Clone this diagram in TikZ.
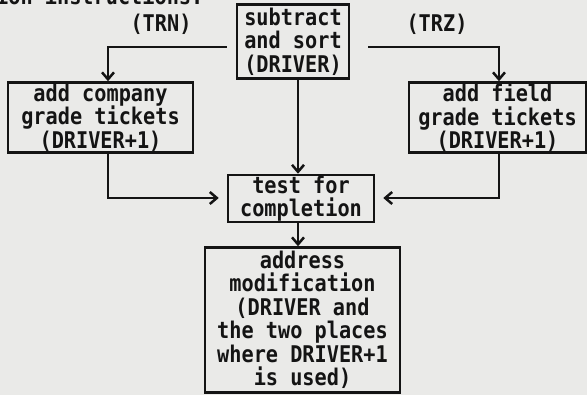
\documentclass[tikz,border=0pt]{standalone}
\usepackage{fontspec}
\newfontfamily\lp[FakeStretch=0.88]{DejaVu Sans Mono}
\usetikzlibrary{arrows.meta}
\definecolor{paper}{RGB}{234,234,232}
\definecolor{ink}{RGB}{20,20,20}
\tikzset{
  box/.style={draw=ink, line width=2.5pt, rectangle, align=center, inner sep=0pt,
              font=\lp\bfseries\fontsize{23}{23.5}\selectfont, text=ink},
  lbl/.style={font=\lp\bfseries\fontsize{23}{23.5}\selectfont, text=ink, inner sep=0pt},
  conn/.style={draw=ink, line width=2.5pt},
  arr/.style={conn, -{Straight Barb[length=7pt,width=12pt,line width=2.5pt]}},
}
\begin{document}
\begin{tikzpicture}[x=1pt,y=-1pt]
\useasboundingbox (0,0) rectangle (587,395);
\fill[paper] (0,0) rectangle (587,395);
\node[lbl, anchor=base west] (title) at (-4,4.5) {ion instructions:};
\node[box, minimum width=112pt, minimum height=74pt] (top) at (293,41.5) {subtract\\and sort\\(DRIVER)};
\node[box, minimum width=185pt, minimum height=70pt] (left) at (100.5,117.5) {add company\\grade tickets\\(DRIVER+1)};
\node[box, minimum width=177pt, minimum height=70pt] (right) at (497.5,117.5) {add field\\grade tickets\\(DRIVER+1)};
\node[box, minimum width=146pt, minimum height=47pt] (test) at (301,198.5) {test for\\completion};
\node[box, minimum width=195pt, minimum height=145pt] (addr) at (302.5,320) {address\\modification\\(DRIVER and\\the two places\\where DRIVER+1\\is used)};
\node[lbl] (trn) at (161,24) {(TRN)};
\node[lbl] (trz) at (437,24) {(TRZ)};
\coordinate (tl) at (108,47);
\coordinate (tr) at (499,47);
\coordinate (bl) at (108,198);
\coordinate (br) at (499,198);
\draw[arr, shorten <=9pt] (top.west |- tl) -- (tl) -- (tl |- left.north);
\draw[arr, shorten <=18pt] (top.east |- tr) -- (tr) -- (tr |- right.north);
\draw[arr] (top.south -| 298,0) -- (298,0 |- test.north);
\draw[arr, shorten >=8pt] (bl |- left.south) -- (bl) -- (test.west |- bl);
\draw[arr, shorten >=8pt] (br |- right.south) -- (br) -- (test.east |- br);
\draw[arr] (test.south -| 298,0) -- (298,0 |- addr.north);
\end{tikzpicture}
\end{document}
